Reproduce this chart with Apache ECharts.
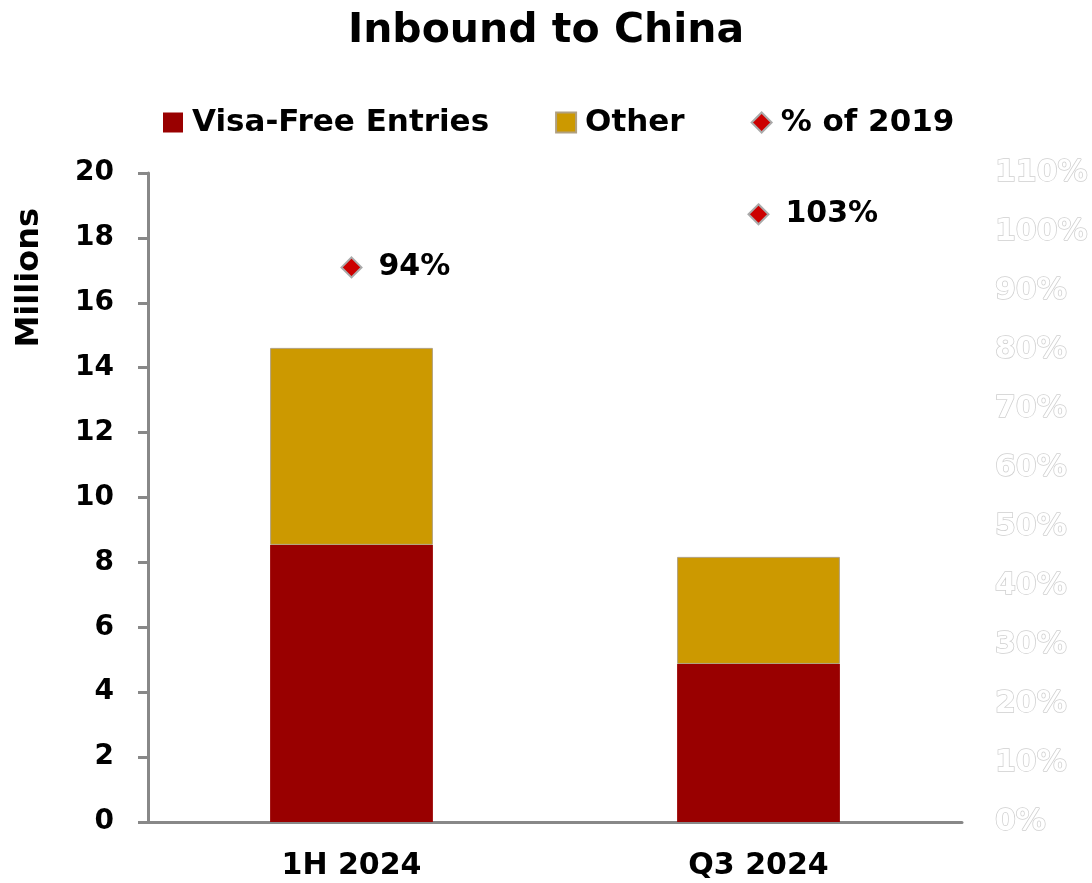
<!DOCTYPE html>
<html><head><meta charset="utf-8">
<script src="https://cdn.jsdelivr.net/npm/echarts@6/dist/echarts.min.js"></script>
<style>html,body{margin:0;padding:0;background:#fff}#c{width:1092px;height:883px}</style>
</head><body><div id="c"></div>
<script>
const categories = ['1H 2024', 'Q3 2024'];
const visaFree = [8.54, 4.87];
const other = [6.07, 3.30];
const pctOf2019 = [94, 103];
const leftTicks = {min: 0, max: 20, interval: 2};
const rightTicks = {min: 0, max: 110, interval: 10};

const F = 'DejaVu Sans, Liberation Sans, Arial, sans-serif';
const chart = echarts.init(document.getElementById('c'));
chart.setOption({
  backgroundColor: '#fff',
  animation: false,
  title: {text: 'Inbound to China', left: 'center', top: 6,
    textStyle: {fontFamily: F, fontWeight: 'bold', fontSize: 41, color: '#000'}},
  legend: {top: 102, left: 158, itemGap: 66, itemWidth: 20, itemHeight: 20,
    textStyle: {fontFamily: F, fontWeight: 'bold', fontSize: 31, color: '#000', padding: [0,0,0,4]},
    data: [{name: 'Visa-Free Entries', icon: 'rect'}, {name: 'Other', icon: 'rect'},
           {name: '% of 2019', icon: 'diamond', itemStyle: {color: '#CC0000', borderColor: '#aaa', borderWidth: 2, opacity: 1}}]},
  grid: {left: 148, right: 130, top: 173, bottom: 61},
  xAxis: {type: 'category', data: categories,
    axisLine: {lineStyle: {color: '#888', width: 3}},
    axisTick: {show: false},
    axisLabel: {fontFamily: F, fontWeight: 'bold', fontSize: 30, color: '#000', margin: 29}},
  yAxis: [
    {type: 'value', min: leftTicks.min, max: leftTicks.max, interval: leftTicks.interval,
     splitLine: {show: false},
     axisLine: {show: true, lineStyle: {color: '#888', width: 3}},
     axisTick: {show: true, inside: false, length: 10, lineStyle: {color: '#888', width: 3}},
     axisLabel: {fontFamily: F, fontWeight: 'bold', fontSize: 28, color: '#000', margin: 34}},
    {type: 'value', min: rightTicks.min, max: rightTicks.max, interval: rightTicks.interval,
     position: 'right', splitLine: {show: false},
     axisLine: {show: false}, axisTick: {show: false},
     axisLabel: {formatter: '{value}%', fontFamily: F, fontWeight: 'bold', fontSize: 30,
       color: '#fff', textBorderColor: '#cfcfcf', textBorderWidth: 1.5, margin: 33}}
  ],
  graphic: [{type: 'text', left: 14, top: 208, rotation: Math.PI/2,
    style: {text: 'Millions', fontFamily: F, fontWeight: 'bold', fontSize: 32, fill: '#000'}}],
  series: [
    {name: 'Visa-Free Entries', type: 'bar', stack: 's', data: visaFree, barCategoryGap: '60%',
     itemStyle: {color: '#990000'}},
    {name: 'Other', type: 'bar', stack: 's', data: other,
     itemStyle: {color: '#CC9900', borderColor: '#b0a080', borderWidth: 1}},
    {name: '% of 2019', type: 'scatter', yAxisIndex: 1, data: pctOf2019, symbol: 'diamond', symbolSize: 20,
     itemStyle: {color: '#CC0000', borderColor: '#aaa', borderWidth: 2, opacity: 1},
     label: {show: true, position: 'right', distance: 16, formatter: '{c}%',
       fontFamily: F, fontWeight: 'bold', fontSize: 30, color: '#000'}}
  ]
});
</script></body></html>
